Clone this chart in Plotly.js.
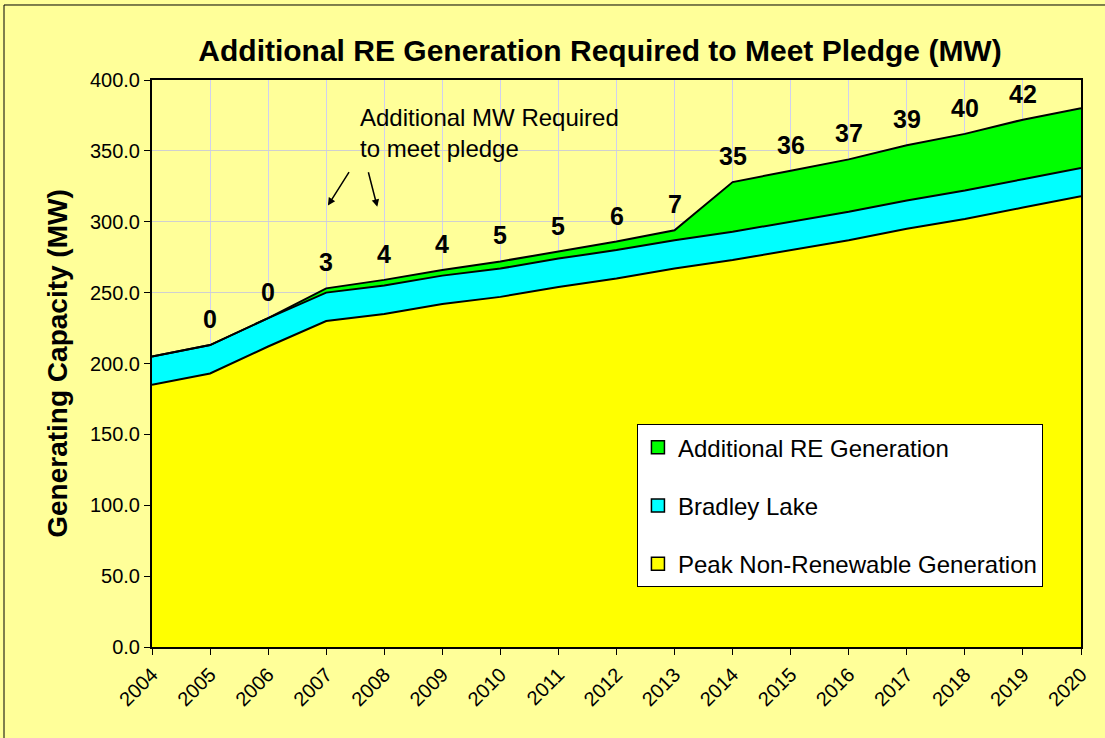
<!DOCTYPE html>
<html>
<head>
<meta charset="utf-8">
<script src="https://cdn.plot.ly/plotly-3.0.1.min.js"></script>
<style>html,body{margin:0;padding:0;background:#FFFF99;}</style>
</head>
<body>
<div id="chart" style="width:1105px;height:738px;"></div>
<script>
const years = [2004,2005,2006,2007,2008,2009,2010,2011,2012,2013,2014,2015,2016,2017,2018,2019,2020];
const peakNonRenewable = [185,193,212,230,235,242,247,254,260,267,273,280,287,295,302,310,318];
const bradleyLake = [20,20,20,20,20,20,20,20,20,20,20,20,20,20,20,20,20];
const additionalRE = [0,0,0,3,4,4,5,5,6,7,35,36,37,39,40,42,42];
const reLabels = [null,'0','0','3','4','4','5','5','6','7','35','36','37','39','40','42',null];
const yTicks = [0,50,100,150,200,250,300,350,400];
const seriesNames = ['Peak Non-Renewable Generation', 'Bradley Lake', 'Additional RE Generation'];
const seriesColors = ['#FFFF00', '#00FFFF', '#00FF00'];

const FONT = 'Liberation Sans, Arial, sans-serif';
const seriesData = [peakNonRenewable, bradleyLake, additionalRE];

const traces = [];
seriesData.forEach((ys, i) => {
  traces.push({x: years, y: ys, name: seriesNames[i], type: 'scatter', mode: 'lines',
    stackgroup: 'one', fillcolor: seriesColors[i], line: {color: '#000000', width: 2}, showlegend: false});
});
// legend entries (square swatches), top to bottom: Additional RE, Bradley Lake, Peak
[2, 1, 0].forEach((i, k) => {
  traces.push({x: [null], y: [null], name: seriesNames[i], type: 'scatter', mode: 'markers',
    marker: {symbol: 'square', size: 13, color: seriesColors[i], line: {color: '#000', width: 1.5}},
    showlegend: true, legendgroup: 'g' + k});
});

const annotations = [];
years.forEach((yr, i) => {
  if (reLabels[i] === null) return;
  annotations.push({x: yr, y: peakNonRenewable[i] + bradleyLake[i] + additionalRE[i], text: '<b>' + reLabels[i] + '</b>',
    showarrow: false, yshift: 26, font: {family: FONT, size: 25, color: '#000'}, xanchor: 'center', yanchor: 'middle'});
});
annotations.push({x: 2007.55, y: 362.6, text: 'Additional MW Required<br>to meet pledge', showarrow: false,
  xanchor: 'left', yanchor: 'middle', align: 'left', font: {family: FONT, size: 24, color: '#000'}});
annotations.push({x: 2007.03, y: 311.5, ax: 2007.41, ay: 336, axref: 'x', ayref: 'y', text: '',
  showarrow: true, arrowhead: 2, arrowsize: 1, arrowwidth: 1.5, arrowcolor: '#000'});
annotations.push({x: 2007.88, y: 310.5, ax: 2007.72, ay: 336, axref: 'x', ayref: 'y', text: '',
  showarrow: true, arrowhead: 2, arrowsize: 1, arrowwidth: 1.5, arrowcolor: '#000'});

const layout = {
  width: 1105, height: 738,
  paper_bgcolor: '#FFFF99', plot_bgcolor: '#FFFF99',
  margin: {l: 152, r: 24, t: 80, b: 91, pad: 0},
  font: {family: FONT, color: '#000'},
  title: {text: '<b>Additional RE Generation Required to Meet Pledge (MW)</b>', x: 0.543, xanchor: 'center',
          y: 0.932, yanchor: 'middle', font: {family: FONT, size: 30, color: '#000'}},
  xaxis: {range: [2004, 2020], tickmode: 'array', tickvals: years, ticktext: years.map(String),
          tickangle: -45, tickfont: {family: FONT, size: 20}, showgrid: true, gridcolor: '#D0D0F0', gridwidth: 1,
          ticks: 'outside', ticklen: 6, tickcolor: '#000', showline: true, linecolor: '#000', linewidth: 2,
          mirror: true, zeroline: false, fixedrange: true},
  yaxis: {range: [0, 400], tickmode: 'array', tickvals: yTicks, ticktext: yTicks.map(v => v.toFixed(1)),
          tickfont: {family: FONT, size: 20}, showgrid: true, gridcolor: '#D0D0D0', gridwidth: 1,
          ticks: 'outside', ticklen: 6, tickcolor: '#000', showline: true, linecolor: '#000', linewidth: 2,
          mirror: true, zeroline: false,
          title: {text: '<b>Generating Capacity (MW)</b>', font: {family: FONT, size: 28}, standoff: 14}},
  showlegend: true,
  legend: {x: 0.522, y: 0.393, xanchor: 'left', yanchor: 'top', bgcolor: '#FFFFFF', bordercolor: '#000',
           borderwidth: 1, font: {family: FONT, size: 24, color: '#000'}, traceorder: 'grouped',
           tracegroupgap: 24, itemwidth: 30},
  annotations: annotations,
  shapes: [{type: 'rect', xref: 'paper', yref: 'paper', x0: -0.1593, x1: 1.2, y0: -0.3, y1: 1.1323,
            line: {color: '#000', width: 1}, fillcolor: 'rgba(0,0,0,0)', layer: 'below'}]
};

Plotly.newPlot('chart', traces, layout, {displayModeBar: false, staticPlot: true});
</script>
</body>
</html>
